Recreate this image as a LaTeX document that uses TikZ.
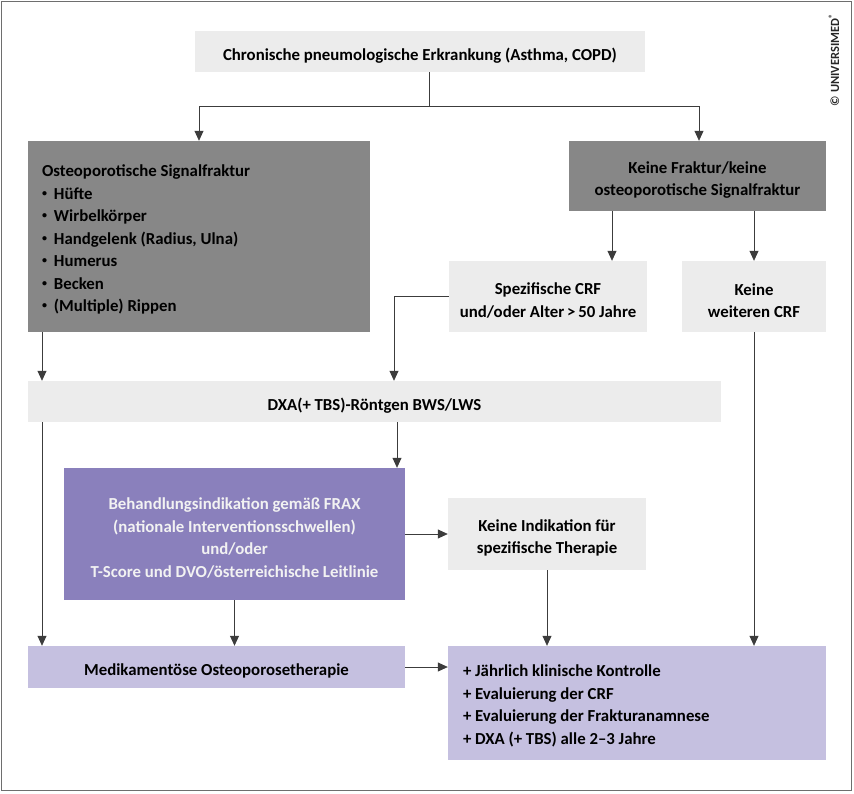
\documentclass[tikz,border=0pt]{standalone}
\usepackage{fontspec}
\setmainfont{Carlito}
\usetikzlibrary{arrows.meta}
\definecolor{lgrey}{HTML}{ECECEC}
\definecolor{dgrey}{HTML}{878787}
\definecolor{purp}{HTML}{8A80BC}
\definecolor{lpurp}{HTML}{C5C0E0}
\definecolor{linec}{HTML}{3C3C3C}
\definecolor{framec}{HTML}{6E6E6E}
\newcommand{\smallbul}{\raisebox{0.18em}{\fontsize{10}{10}\selectfont\textbullet}\hspace{7pt}}
\newcommand{\tup}{\rule{0pt}{20pt}}
\begin{document}
\begin{tikzpicture}[x=1pt,y=-1pt,
  font=\bfseries\fontsize{16.8}{22.5}\selectfont,
  boxbase/.style={draw=none,inner sep=0pt,align=center},
  lightbox/.style={boxbase,fill=lgrey},
  darkbox/.style={boxbase,fill=dgrey},
  purpbox/.style={boxbase,fill=purp,text=white!95!black},
  lpurpbox/.style={boxbase,fill=lpurp},
  listtext/.style={inner sep=0pt,align=left,anchor=west},
  conn/.style={draw=linec,line width=0.8pt},
  arr/.style={conn,-{Triangle[length=10pt,width=9pt]}}]
\useasboundingbox (0,0) rectangle (854,794);
\draw[framec,line width=1.6pt] (1.5,1.5) rectangle (851.5,790.5);

\node[lightbox,minimum width=450pt,minimum height=41pt] (top) at (420,51.5)
  {\tup Chronische pneumologische Erkrankung (Asthma, COPD)};
\node[darkbox,minimum width=342pt,minimum height=191pt] (lfrac) at (199,236.5) {};
\node[listtext] (lfractext) at ([xshift=14pt,yshift=-3pt]lfrac.west)
  {Osteoporotische Signalfraktur\\
   \smallbul Hüfte\\
   \smallbul Wirbelkörper\\
   \smallbul Handgelenk (Radius, Ulna)\\
   \smallbul Humerus\\
   \smallbul Becken\\
   \smallbul (Multiple) Rippen};
\node[darkbox,minimum width=257pt,minimum height=70pt] (rfrac) at (697.5,176)
  {\tup Keine Fraktur/keine\\osteoporotische Signalfraktur};
\node[lightbox,minimum width=198pt,minimum height=71pt] (spez) at (548,296.5)
  {\tup Spezifische CRF\\und/oder Alter\,>\,50 Jahre};
\node[lightbox,minimum width=144pt,minimum height=71pt] (kweit) at (754,296.5)
  {\tup Keine\\weiteren CRF};
\node[lightbox,minimum width=693pt,minimum height=41pt] (dxa) at (374.5,401.5)
  {\tup DXA(+ TBS)-Röntgen BWS/LWS};
\node[purpbox,minimum width=341pt,minimum height=132pt] (purple) at (234.5,534)
  {\tup Behandlungsindikation gemäß FRAX\\(nationale Interventionsschwellen)\\und/oder\\T-Score und DVO/österreichische Leitlinie};
\node[lightbox,minimum width=198pt,minimum height=72pt] (kind) at (547,534)
  {\tup Keine Indikation für\\spezifische Therapie};
\node[lpurpbox,minimum width=377pt,minimum height=42pt] (medik) at (216.5,667)
  {\tup Medikamentöse Osteoporosetherapie};
\node[lpurpbox,minimum width=378pt,minimum height=114pt] (final) at (637,703) {};
\node[listtext] (finaltext) at ([xshift=15pt,yshift=-3pt]final.west)
  {+ Jährlich klinische Kontrolle\\
   + Evaluierung der CRF\\
   + Evaluierung der Frakturanamnese\\
   + DXA (+ TBS) alle 2–3 Jahre};

\node[rotate=90,text=black!85,font=\bfseries\fontsize{12.5}{13}\selectfont] (copy) at (834,60)
  {© UNIVERSIMED\textsuperscript{®}};

\coordinate (c42) at (42,0);
\coordinate (c397) at (397,0);
\coordinate (c394) at (394,0);
\coordinate (c612) at (612,0);

\draw[conn] ([xshift=9pt]top.south) -- ++(0,34) coordinate (split);
\draw[arr] (split) -| (lfrac.north);
\draw[arr] (split) -| ([xshift=1.5pt]rfrac.north);
\draw[arr] (rfrac.south -| c612) -- (spez.north -| c612);
\draw[arr] (rfrac.south -| kweit.north) -- (kweit.north);
\draw[arr] (spez.west) -| (dxa.north -| c394);
\draw[arr] (lfrac.south -| c42) -- (dxa.north -| c42);
\draw[arr] (dxa.south -| c42) -- (medik.north -| c42);
\draw[arr] (dxa.south -| c397) -- (purple.north -| c397);
\draw[arr] (purple.east) -- (kind.west);
\draw[arr] (purple.south) -- (medik.north -| purple.south);
\draw[arr] (kind.south) -- (final.north -| kind.south);
\draw[arr] (medik.east) -- (final.west |- medik.east);
\draw[arr] (kweit.south) -- (final.north -| kweit.south);
\end{tikzpicture}
\end{document}
